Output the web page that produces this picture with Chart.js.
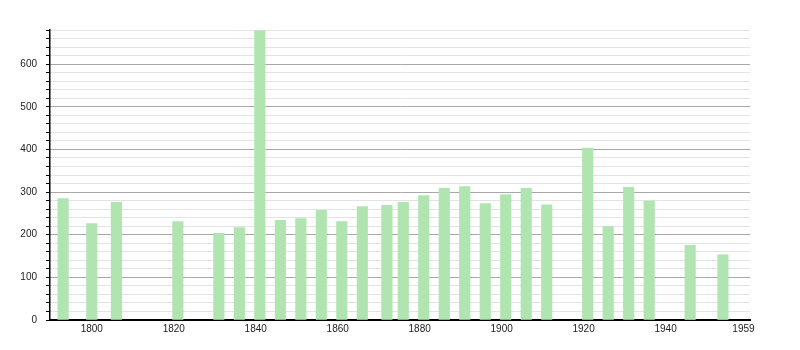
<!DOCTYPE html>
<html>
<head>
<meta charset="utf-8">
<script src="https://cdn.jsdelivr.net/npm/chart.js@4"></script>
<style>
  html, body { margin: 0; padding: 0; background: #fff; }
  #wrap { width: 800px; height: 350px; position: relative; }
</style>
</head>
<body>
<div id="wrap"><canvas id="pop"></canvas></div>
<script>
  // census years and population
  const years = [1793, 1800, 1806, 1821, 1831, 1836, 1841, 1846, 1851, 1856, 1861, 1866, 1872, 1876,
    1881, 1886, 1891, 1896, 1901, 1906, 1911, 1921, 1926, 1931, 1936, 1946, 1954];
  const population = [285, 226, 276, 231, 203, 217, 678, 234, 238, 257, 231, 266, 269, 276,
    292, 309, 313, 273, 294, 309, 270, 403, 219, 311, 279, 175, 153];
  const xTicks = [1800, 1820, 1840, 1860, 1880, 1900, 1920, 1940, 1959];

  const points = years.map(function(y, i) { return { x: y, y: population[i] }; });

  new Chart(document.getElementById('pop'), {
    type: 'bar',
    data: {
      datasets: [{
        data: points,
        backgroundColor: 'rgb(176, 228, 176)',
        barThickness: 10.5
      }]
    },
    options: {
      responsive: true,
      maintainAspectRatio: false,
      animation: false,
      layout: { padding: { top: 30, right: 50, left: 0, bottom: 0 } },
      plugins: { legend: { display: false }, tooltip: { enabled: false } },
      scales: {
        x: {
          type: 'linear',
          offset: false,
          min: 1789.8,
          max: 1960.6,
          afterBuildTicks: function(axis) {
            axis.ticks = xTicks.map(function(v) { return { value: v }; });
          },
          afterFit: function(axis) { axis.height = 30; },
          grid: { display: false, drawTicks: false, tickLength: 0 },
          border: { color: '#000', width: 2 },
          ticks: {
            autoSkip: false,
            maxRotation: 0,
            padding: 3,
            color: '#222',
            font: { family: 'Liberation Sans', size: 10 },
            callback: function(v) { return String(v); }
          }
        },
        y: {
          min: 0,
          max: 680,
          afterFit: function(axis) { axis.width = 50; },
          border: { color: '#000', width: 1.5 },
          grid: {
            tickLength: 4,
            tickColor: '#000',
            color: function(ctx) {
              if (ctx.tick && ctx.tick.value % 100 === 0) return '#a8a8a8';
              return '#e3e3e3';
            }
          },
          ticks: {
            stepSize: 20,
            maxTicksLimit: 100,
            autoSkip: false,
            padding: 9,
            color: '#222',
            font: { family: 'Liberation Sans', size: 10 },
            callback: function(v) { return v % 100 === 0 ? v : ''; }
          }
        }
      }
    }
  });
</script>
</body>
</html>
